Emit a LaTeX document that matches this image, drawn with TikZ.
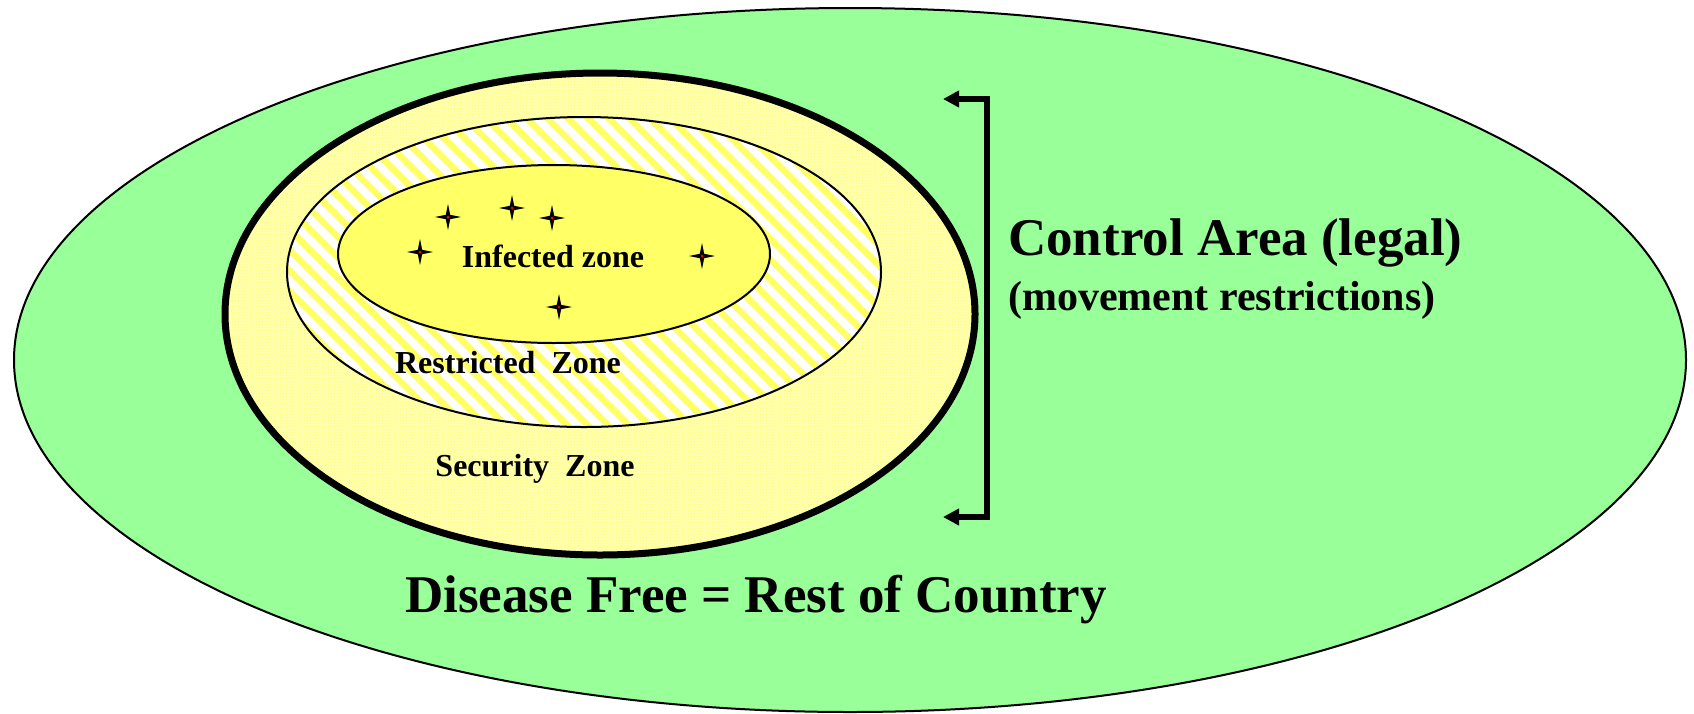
\documentclass[tikz,border=0pt]{standalone}
\usepackage{fontspec}
\setmainfont{Liberation Serif}
\usetikzlibrary{arrows.meta,patterns}

\definecolor{freegreen}{HTML}{99FF99}
\definecolor{zoneyellow}{HTML}{FFFF66}

\begin{document}
\begin{tikzpicture}[x=1pt,y=-1pt,
    zonelabel/.style={font=\bfseries\fontsize{32}{38}\selectfont, inner sep=0pt},
    biglabel/.style={font=\bfseries\fontsize{53}{60}\selectfont, inner sep=0pt, anchor=base west},
    stripe/.style={zoneyellow, line width=6.5pt},
    bracket/.style={line width=6pt, line join=miter,
        {Triangle[length=16pt,width=16pt]}-{Triangle[length=16pt,width=16pt]}}]
    \useasboundingbox (0,0) rectangle (1694,713);

    % rest of country
    \draw[line width=2pt, fill=freegreen] (850,360) ellipse (836pt and 352pt);

    % security zone
    \fill[zoneyellow!50!white] (600,314) ellipse (375pt and 241pt);
    \fill[pattern=crosshatch dots, pattern color=zoneyellow] (600,314) ellipse (375pt and 241pt);
    \draw[line width=7pt] (600,314) ellipse (375pt and 241pt);

    % restricted zone
    \begin{scope}
        \clip (584,272) ellipse (297pt and 155pt);
        \fill[white] (584,272) ellipse (297pt and 155pt);
        \foreach \k in {0,...,50}
            \draw[stripe] (-40+20.5*\k,105) -- ++(340,340);
    \end{scope}
    \draw[line width=2pt] (584,272) ellipse (297pt and 155pt);

    % infected zone
    \draw[line width=2pt, fill=zoneyellow] (554,254) ellipse (216pt and 89pt);

    % outbreaks
    \foreach \sx/\sy in {448/217, 512/208, 552/218, 420/252, 702/256, 559/307}{
        \fill (\sx,\sy) +(0,-13) -- +(2.2,-2.2) -- +(13,0) -- +(2.2,2.2) -- +(0,13)
            -- +(-2.2,2.2) -- +(-13,0) -- +(-2.2,-2.2) -- cycle;
        \fill[red] (\sx,\sy) circle (1.5pt);
    }

    \node[zonelabel] (infected) at (553,256) {Infected zone};
    \node[zonelabel, anchor=base] (restricted) at (508,373) {Restricted\ \ Zone};
    \node[zonelabel, anchor=base] (security) at (535,476) {Security\ \ Zone};

    \node[biglabel] (control) at (1008,255) {Control Area (legal)};
    \node[biglabel, font=\bfseries\fontsize{42}{50}\selectfont] (movement) at (1008,310) {(movement restrictions)};
    \node[biglabel] (free) at (405,612) {Disease Free = Rest of Country};

    % control area bracket
    \coordinate (tipTop) at (943,99);
    \coordinate (barTop) at (987,99);
    \coordinate (barBot) at (987,517);
    \coordinate (tipBot) at (943,517);
    \draw[bracket] (tipTop) -- (barTop) -- (barBot) -- (tipBot);
\end{tikzpicture}
\end{document}
